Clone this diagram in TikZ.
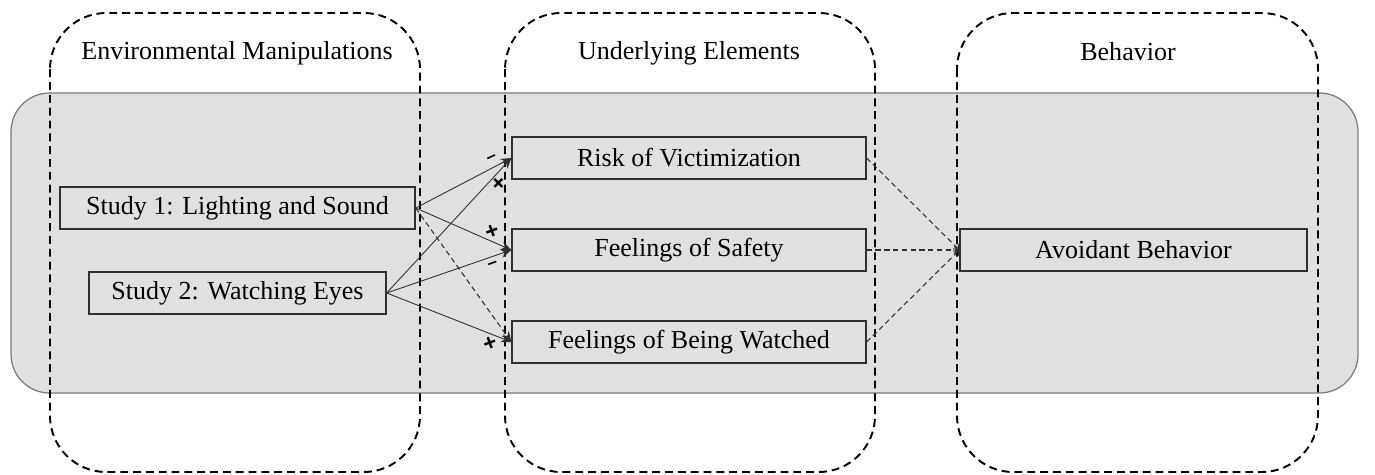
\documentclass[tikz,border=0pt]{standalone}
\usepackage{fontspec}
\setmainfont{Liberation Serif}
\newfontfamily\signfont{Liberation Sans}
\usetikzlibrary{arrows.meta}
\definecolor{panelgray}{HTML}{E0E0E0}
\definecolor{paneledge}{HTML}{7A7A7A}
\definecolor{boxedge}{HTML}{303030}
\begin{document}
\begin{tikzpicture}[x=0.02cm,y=-0.02cm,
  groupbox/.style={draw=black,line width=1.1pt,dash pattern=on 4.5pt off 2.8pt,rounded corners=32pt},
  varbox/.style={draw=boxedge,line width=0.75pt,fill=panelgray,minimum height=42*0.02cm,inner sep=0pt,font=\fontsize{14.8}{16}\selectfont},
  grouptitle/.style={font=\fontsize{14.8}{16}\selectfont,inner sep=0pt},
  effect/.style={draw=boxedge,line width=0.5pt,-{Stealth[length=6pt,width=5pt]}},
  dasheffect/.style={draw=boxedge,line width=0.6pt,dash pattern=on 3pt off 2pt},
  sign/.style={font=\signfont\bfseries\fontsize{13}{13}\selectfont,inner sep=0pt},
  minus/.style={font=\signfont\bfseries\fontsize{10}{10}\selectfont,inner sep=0pt}]
\useasboundingbox (0,0) rectangle (1375,474);
% background panel
\fill[panelgray,draw=paneledge,line width=0.7pt,rounded corners=22pt] (11,93) rectangle (1358,393);
% group boxes
\draw[groupbox] (50,13) rectangle (420,472);
\draw[groupbox] (505,13) rectangle (875,472);
\draw[groupbox] (957,13) rectangle (1318,472);
% titles
\node[grouptitle] (t1) at (237,53) {Environmental Manipulations};
\node[grouptitle] (t2) at (689,53) {Underlying Elements};
\node[grouptitle] (t3) at (1128,52) {Behavior};
% variable boxes
\node[varbox,minimum width=355*0.02cm] (s1) at (237.5,208) {Study 1: Lighting and Sound};
\node[varbox,minimum width=297*0.02cm] (s2) at (237.5,293) {Study 2: Watching Eyes};
\node[varbox,minimum width=354*0.02cm] (risk) at (689,158) {Risk of Victimization};
\node[varbox,minimum width=354*0.02cm] (safe) at (689,250) {Feelings of Safety};
\node[varbox,minimum width=354*0.02cm] (watch) at (689,342) {Feelings of Being Watched};
\node[varbox,minimum width=347*0.02cm] (avoid) at (1133.5,250) {Avoidant Behavior};
% connectors
\draw[effect] (s1.east) -- (risk.west);
\draw[effect] (s1.east) -- (safe.west);
\draw[dasheffect,-{Stealth[length=6pt,width=5pt]}] (s1.east) -- (watch.west);
\draw[effect] (s2.east) -- (risk.west);
\draw[effect] (s2.east) -- (safe.west);
\draw[effect] (s2.east) -- (watch.west);
\draw[dasheffect,-{Straight Barb[length=2.5pt,width=4pt]}] (risk.east) -- (avoid.west);
\draw[dasheffect,-{Straight Barb[length=2.5pt,width=4pt]}] (safe.east) -- (avoid.west);
\draw[dasheffect,-{Straight Barb[length=2.5pt,width=4pt]}] (watch.east) -- (avoid.west);
% signs
\node[minus,rotate=25] (g1) at (492,159) {–};
\node[sign,rotate=45] (g2) at (499,184) {+};
\node[sign,rotate=20] (g3) at (492,232) {+};
\node[minus,rotate=20] (g4) at (493,265) {–};
\node[sign,rotate=20] (g5) at (490,344) {+};
\end{tikzpicture}
\end{document}
